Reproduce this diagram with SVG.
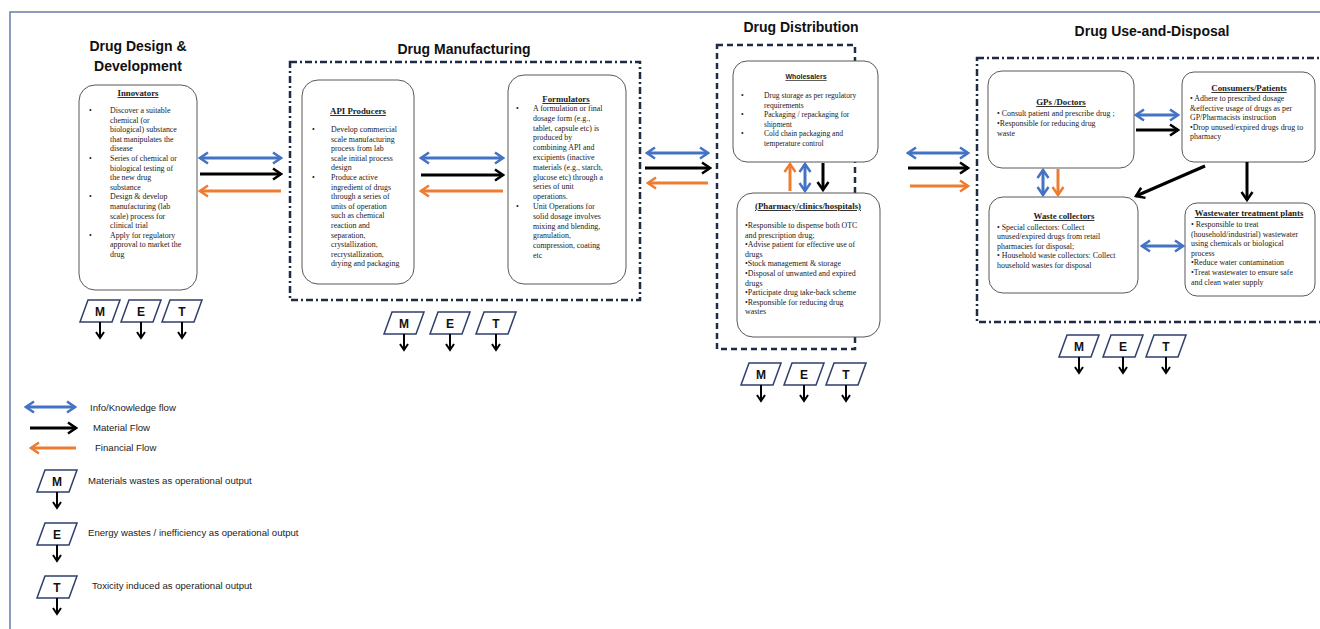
<svg xmlns="http://www.w3.org/2000/svg" width="1320" height="629" viewBox="0 0 1320 629">
<style>
.box{fill:#fff;stroke:#595959;stroke-width:1}
.b{font-family:"Liberation Serif",serif;font-size:7.9px;fill:#1a1a1a}
.h{font-family:"Liberation Serif",serif;font-weight:bold;font-size:8.8px;text-decoration:underline;text-anchor:middle;fill:#1a1a1a}
.hs{font-family:"Liberation Sans",sans-serif;font-weight:bold;font-size:7px;text-decoration:underline;text-anchor:middle;fill:#1a1a1a}
.t{font-family:"Liberation Sans",sans-serif;font-weight:bold;font-size:14px;text-anchor:middle;fill:#111}
.lg{font-family:"Liberation Sans",sans-serif;font-size:9.6px;fill:#222}
.let{font-family:"Liberation Sans",sans-serif;font-weight:bold;font-size:12px;text-anchor:middle;fill:#111}
.bl{stroke:#4472c4;stroke-width:3;fill:none;marker-start:url(#hb);marker-end:url(#hb)}
.bk{stroke:#000;stroke-width:3;fill:none;marker-end:url(#hk)}
.or{stroke:#ed7d31;stroke-width:3;fill:none;marker-end:url(#ho)}
.pg{fill:#fff;stroke:#2f3f6b;stroke-width:1.5}
.dn{stroke:#000;stroke-width:2;fill:none;marker-end:url(#hs)}
.frame{fill:none;stroke:#1f2a44;stroke-width:2.5}
</style>
<defs>
<marker id="hb" viewBox="0 0 12 14" refX="10" refY="7" markerWidth="12" markerHeight="14" markerUnits="userSpaceOnUse" orient="auto-start-reverse"><path d="M2,1.5 L10,7 L2,12.5" fill="none" stroke="#4472c4" stroke-width="2.5"/></marker>
<marker id="hk" viewBox="0 0 12 14" refX="10" refY="7" markerWidth="12" markerHeight="14" markerUnits="userSpaceOnUse" orient="auto"><path d="M2,1.5 L10,7 L2,12.5" fill="none" stroke="#000" stroke-width="2.5"/></marker>
<marker id="ho" viewBox="0 0 12 14" refX="10" refY="7" markerWidth="12" markerHeight="14" markerUnits="userSpaceOnUse" orient="auto"><path d="M2,1.5 L10,7 L2,12.5" fill="none" stroke="#ed7d31" stroke-width="2.5"/></marker>
<marker id="hs" viewBox="0 0 10 10" refX="8" refY="5" markerWidth="10" markerHeight="10" markerUnits="userSpaceOnUse" orient="auto"><path d="M2,1 L8,5 L2,9" fill="none" stroke="#000" stroke-width="2"/></marker>
<g id="met"><polygon class="pg" points="8,0 40,0 32,22 0,22"/><line class="dn" x1="20" y1="22" x2="20" y2="38"/></g>
</defs>
<rect width="1320" height="629" fill="#fff"/>
<path d="M10,629 V12 H1320" fill="none" stroke="#6b7ba6" stroke-width="1.5"/>

<g id="titles">
<text class="t" x="138" y="51">Drug Design &amp;</text>
<text class="t" x="138" y="71">Development</text>
<text class="t" x="464" y="54">Drug Manufacturing</text>
<text class="t" x="801" y="32">Drug Distribution</text>
<text class="t" x="1152" y="36">Drug Use-and-Disposal</text>
</g>

<g id="frames">
<rect class="frame" x="290" y="62" width="350" height="238" stroke-dasharray="7 3 2 3"/>
<rect class="frame" x="717" y="45" width="138" height="304" stroke-width="3" stroke-dasharray="6 4"/>
<rect class="frame" x="977" y="58" width="360" height="264" stroke-dasharray="7 3 2 3"/>
</g>

<g id="innovators">
<rect class="box" x="79" y="85" width="118" height="205" rx="16"/>
<text class="h" x="138" y="96">Innovators</text>
<g class="b">
<text x="89" y="113">•</text><text x="110" y="113">Discover a suitable</text>
<text x="110" y="122.6">chemical (or</text>
<text x="110" y="132.2">biological) substance</text>
<text x="110" y="141.8">that manipulates the</text>
<text x="110" y="151.4">disease</text>
<text x="89" y="161">•</text><text x="110" y="161">Series of chemical or</text>
<text x="110" y="170.6">biological testing of</text>
<text x="110" y="180.2">the new drug</text>
<text x="110" y="189.8">substance</text>
<text x="89" y="199.4">•</text><text x="110" y="199.4">Design &amp; develop</text>
<text x="110" y="209">manufacturing (lab</text>
<text x="110" y="218.6">scale) process for</text>
<text x="110" y="228.2">clinical trial</text>
<text x="89" y="237.8">•</text><text x="110" y="237.8">Apply for regulatory</text>
<text x="110" y="247.4">approval to market the</text>
<text x="110" y="257">drug</text>
</g>
</g>

<g id="api">
<rect class="box" x="302" y="80" width="112" height="204" rx="16"/>
<text class="h" x="358" y="114">API Producers</text>
<g class="b">
<text x="312" y="132">•</text><text x="331" y="132">Develop commercial</text>
<text x="331" y="141.6">scale manufacturing</text>
<text x="331" y="151.2">process from lab</text>
<text x="331" y="160.8">scale initial  process</text>
<text x="331" y="170.4">design</text>
<text x="312" y="180">•</text><text x="331" y="180">Produce active</text>
<text x="331" y="189.6">ingredient  of drugs</text>
<text x="331" y="199.2">through a series of</text>
<text x="331" y="208.8">units of operation</text>
<text x="331" y="218.4">such as chemical</text>
<text x="331" y="228">reaction and</text>
<text x="331" y="237.6">separation,</text>
<text x="331" y="247.2">crystallization,</text>
<text x="331" y="256.8">recrystallization,</text>
<text x="331" y="266.4">drying and packaging</text>
</g>
</g>

<g id="formulators">
<rect class="box" x="508" y="75" width="118" height="209" rx="16"/>
<text class="h" x="566" y="102">Formulators</text>
<g class="b">
<text x="516" y="111">•</text><text x="533" y="111">A formulation  or final</text>
<text x="533" y="120.8">dosage form (e.g.,</text>
<text x="533" y="130.6">tablet, capsule etc) is</text>
<text x="533" y="140.4">produced by</text>
<text x="533" y="150.2">combining API and</text>
<text x="533" y="160">excipients (inactive</text>
<text x="533" y="169.8">materials (e.g., starch,</text>
<text x="533" y="179.6">glucose etc) through a</text>
<text x="533" y="189.4">series of unit</text>
<text x="533" y="199.2">operations.</text>
<text x="516" y="209">•</text><text x="533" y="209">Unit Operations for</text>
<text x="533" y="218.8">solid dosage involves</text>
<text x="533" y="228.6">mixing  and blending,</text>
<text x="533" y="238.4">granulation,</text>
<text x="533" y="248.2">compression, coating</text>
<text x="533" y="258">etc</text>
</g>
</g>

<g id="wholesalers">
<rect class="box" x="733" y="61" width="145" height="101" rx="14"/>
<text class="hs" x="806" y="79">Wholesalers</text>
<g class="b" style="font-size:7.6px">
<text x="741" y="98">•</text><text x="764" y="98">Drug storage as per regulatory</text>
<text x="764" y="107.5">requirements</text>
<text x="741" y="117">•</text><text x="764" y="117">Packaging / repackaging for</text>
<text x="764" y="126.5">shipment</text>
<text x="741" y="136">•</text><text x="764" y="136">Cold chain packaging and</text>
<text x="764" y="145.5">temperature control</text>
</g>
</g>

<g id="pharmacy">
<rect class="box" x="737" y="193" width="143" height="144" rx="16"/>
<text class="h" x="808" y="209">(Pharmacy/clinics/hospitals)</text>
<g class="b">
<text x="745" y="228">•Responsible to dispense both OTC</text>
<text x="745" y="237.6">and prescription drug;</text>
<text x="745" y="247.2">•Advise patient for effective use of</text>
<text x="745" y="256.8">drugs</text>
<text x="745" y="266.4">•Stock management  &amp; storage</text>
<text x="745" y="276">•Disposal of unwanted and expired</text>
<text x="745" y="285.6">drugs</text>
<text x="745" y="295.2">•Participate drug take-back scheme</text>
<text x="745" y="304.8">•Responsible for reducing drug</text>
<text x="745" y="314.4">wastes</text>
</g>
</g>

<g id="gps">
<rect class="box" x="988" y="71" width="146" height="97" rx="14"/>
<text class="h" x="1061" y="105">GPs /Doctors</text>
<g class="b">
<text x="997" y="116">• Consult patient  and prescribe drug ;</text>
<text x="997" y="126">•Responsible for reducing  drug</text>
<text x="997" y="136">waste</text>
</g>
</g>

<g id="consumers">
<rect class="box" x="1182" y="72" width="133" height="90" rx="12"/>
<text class="h" x="1249" y="91">Consumers/Patients</text>
<g class="b">
<text x="1190" y="101">• Adhere to prescribed dosage</text>
<text x="1190" y="110.5">&amp;effective usage of drugs as per</text>
<text x="1190" y="120">GP/Pharmacists instruction</text>
<text x="1190" y="129.5">•Drop unused/expired drugs drug to</text>
<text x="1190" y="139">pharmacy</text>
</g>
</g>

<g id="waste">
<rect class="box" x="989" y="197" width="149" height="96" rx="14"/>
<text class="h" x="1064" y="219">Waste collectors</text>
<g class="b">
<text x="997" y="229.5">• Special collectors: Collect</text>
<text x="997" y="239">unused/expired drugs from retail</text>
<text x="997" y="248.5">pharmacies for disposal;</text>
<text x="997" y="258">•  Household waste collectors: Collect</text>
<text x="997" y="267.5">household wastes  for disposal</text>
</g>
</g>

<g id="wastewater">
<rect class="box" x="1185" y="203" width="130" height="93" rx="12"/>
<text class="h" x="1249" y="216">Wastewater treatment plants</text>
<g class="b">
<text x="1191" y="227">• Responsible to treat</text>
<text x="1191" y="236.6">(household/industrial)  wastewater</text>
<text x="1191" y="246.2">using chemicals  or biological</text>
<text x="1191" y="255.8">process</text>
<text x="1191" y="265.4">•Reduce water contamination</text>
<text x="1191" y="275">•Treat wastewater to ensure safe</text>
<text x="1191" y="284.6">and clean water supply</text>
</g>
</g>

<g id="connectors">
<line class="bl" x1="200" y1="158" x2="281" y2="158"/>
<line class="bk" x1="200" y1="174" x2="281" y2="174"/>
<line class="or" x1="281" y1="191" x2="200" y2="191"/>
<line class="bl" x1="421" y1="158" x2="503" y2="158"/>
<line class="bk" x1="421" y1="175" x2="503" y2="175"/>
<line class="or" x1="503" y1="191" x2="421" y2="191"/>
<line class="bl" x1="647" y1="153" x2="708" y2="153"/>
<line class="bk" x1="645" y1="168" x2="710" y2="168"/>
<line class="or" x1="708" y1="183" x2="648" y2="183"/>
<line class="or" x1="790" y1="191" x2="790" y2="164"/>
<line class="bl" x1="805" y1="164" x2="805" y2="191"/>
<line class="bk" x1="823" y1="163" x2="823" y2="190"/>
<line class="bl" x1="908" y1="153" x2="968" y2="153"/>
<line class="bk" x1="908" y1="168" x2="968" y2="168"/>
<line class="or" x1="910" y1="186" x2="968" y2="186"/>
<line class="bl" x1="1136" y1="115" x2="1178" y2="115"/>
<line class="bk" x1="1136" y1="130" x2="1178" y2="130"/>
<line class="bl" x1="1043" y1="170" x2="1043" y2="195"/>
<line class="or" x1="1058" y1="169" x2="1058" y2="195"/>
<line class="bk" x1="1205" y1="166" x2="1136" y2="196"/>
<line class="bk" x1="1247" y1="162" x2="1247" y2="200"/>
<line class="bl" x1="1142" y1="246" x2="1183" y2="246"/>
</g>

<g id="met1">
<use href="#met" x="80" y="300"/><use href="#met" x="121" y="300"/><use href="#met" x="162" y="300"/>
<text class="let" x="100" y="316">M</text><text class="let" x="141" y="316">E</text><text class="let" x="182" y="316">T</text>
</g>
<g id="met2">
<use href="#met" x="384" y="312"/><use href="#met" x="430" y="312"/><use href="#met" x="476" y="312"/>
<text class="let" x="404" y="328">M</text><text class="let" x="450" y="328">E</text><text class="let" x="496" y="328">T</text>
</g>
<g id="met3">
<use href="#met" x="741" y="363"/><use href="#met" x="784" y="363"/><use href="#met" x="826" y="363"/>
<text class="let" x="761" y="379">M</text><text class="let" x="804" y="379">E</text><text class="let" x="846" y="379">T</text>
</g>
<g id="met4">
<use href="#met" x="1059" y="335"/><use href="#met" x="1103" y="335"/><use href="#met" x="1146" y="335"/>
<text class="let" x="1079" y="351">M</text><text class="let" x="1123" y="351">E</text><text class="let" x="1166" y="351">T</text>
</g>

<g id="legend">
<line class="bl" x1="26" y1="407" x2="75" y2="407"/>
<text class="lg" x="90" y="411">Info/Knowledge flow</text>
<line class="bk" x1="30" y1="428" x2="76" y2="428"/>
<text class="lg" x="93" y="431">Material Flow</text>
<line class="or" x1="76" y1="448" x2="31" y2="448"/>
<text class="lg" x="95" y="451">Financial Flow</text>
<use href="#met" x="37" y="470"/><text class="let" x="57" y="486">M</text>
<text class="lg" x="88" y="484">Materials wastes as operational output</text>
<use href="#met" x="37" y="523"/><text class="let" x="57" y="539">E</text>
<text class="lg" x="88" y="536">Energy  wastes / inefficiency as operational output</text>
<use href="#met" x="37" y="576"/><text class="let" x="57" y="592">T</text>
<text class="lg" x="92" y="589">Toxicity induced as operational output</text>
</g>
</svg>
